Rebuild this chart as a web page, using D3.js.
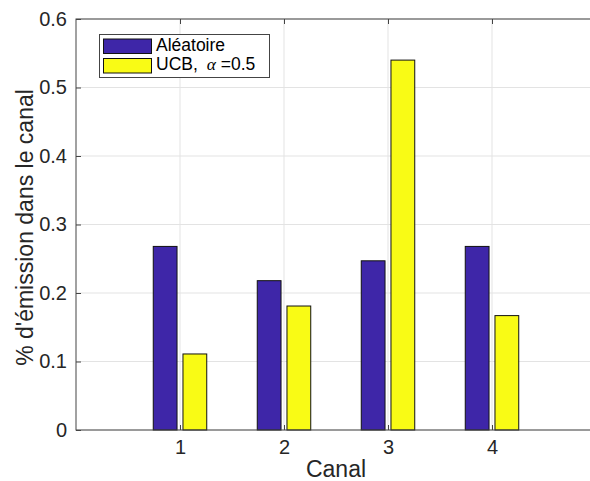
<!DOCTYPE html>
<html>
<head>
<meta charset="utf-8">
<script src="https://cdn.jsdelivr.net/npm/d3@7"></script>
<style>
  html, body { margin: 0; padding: 0; background: #fff; overflow: hidden; }
  text { font-family: "Liberation Sans", Arial, Helvetica, sans-serif; }
</style>
</head>
<body>
<svg id="chart" width="590" height="481"></svg>
<script>
const categories = [1, 2, 3, 4];
const aleatoire = [0.268, 0.218, 0.247, 0.268];
const ucb = [0.111, 0.181, 0.540, 0.167];
const yTicks = [0, 0.1, 0.2, 0.3, 0.4, 0.5, 0.6];
const seriesNames = ["Aléatoire", "UCB, "];
const xLabel = "Canal";
const yLabel = "% d'émission dans le canal";

const colors = ["rgb(62,38,168)", "rgb(249,251,21)"];
const svg = d3.select("#chart");
const L = 76, R = 596, T = 19, B = 430;
const x = d3.scaleLinear().domain([0, 5]).range([L, R]);
const y = d3.scaleLinear().domain([0, 0.6]).range([B, T]);
const axisCol = "#262626";
const gridCol = "#e3e3e3";

// grid
svg.append("g").selectAll("line").data(categories).join("line")
  .attr("x1", d => x(d)).attr("x2", d => x(d)).attr("y1", T).attr("y2", B)
  .attr("stroke", gridCol).attr("stroke-width", 1);
svg.append("g").selectAll("line").data(yTicks).join("line")
  .attr("x1", L).attr("x2", R).attr("y1", d => y(d)).attr("y2", d => y(d))
  .attr("stroke", gridCol).attr("stroke-width", 1);

// bars
const groupWidth = Math.min(0.8, 2 / (2 + 1.5));
const barW = groupWidth / 2 * 0.8;
const offsets = [-groupWidth / 4, groupWidth / 4];
[aleatoire, ucb].forEach((vals, si) => {
  svg.append("g").selectAll("rect").data(categories.map((c, i) => ({c, v: vals[i]}))).join("rect")
    .attr("x", d => x(d.c + offsets[si] - barW / 2))
    .attr("width", d => x(d.c + offsets[si] + barW / 2) - x(d.c + offsets[si] - barW / 2))
    .attr("y", d => y(d.v))
    .attr("height", d => y(0) - y(d.v))
    .attr("fill", colors[si])
    .attr("stroke", "#111").attr("stroke-width", 1);
});

// axes box
const box = svg.append("g").attr("fill", "none").attr("stroke", "#444").attr("stroke-width", 1);
box.append("rect").attr("x", L).attr("y", T).attr("width", R - L).attr("height", B - T);

// inward ticks
const yAxis = d3.axisLeft(y).tickValues(yTicks).tickSize(-5).tickPadding(9)
  .tickFormat(d => d === 0 ? "0" : d3.format(".1f")(d));
const gy = svg.append("g").attr("transform", `translate(${L},0)`).call(yAxis);
gy.select(".domain").remove();
gy.selectAll("line").attr("stroke", "#444");
gy.selectAll("text").attr("fill", axisCol).attr("font-size", 20);

const xAxis = d3.axisBottom(x).tickValues(categories).tickSize(-5).tickPadding(10).tickFormat(d3.format("d"));
const gx = svg.append("g").attr("transform", `translate(0,${B})`).call(xAxis);
gx.select(".domain").remove();
gx.selectAll("line").attr("stroke", "#444");
gx.selectAll("text").attr("fill", axisCol).attr("font-size", 20);

const xTop = d3.axisTop(x).tickValues(categories).tickSize(-5).tickFormat("");
const gt = svg.append("g").attr("transform", `translate(0,${T})`).call(xTop);
gt.select(".domain").remove();
gt.selectAll("line").attr("stroke", "#444");

// labels
svg.append("text").attr("x", (L + R) / 2).attr("y", 477).attr("text-anchor", "middle")
  .attr("font-size", 23).attr("fill", axisCol).text(xLabel);
svg.append("text").attr("transform", `translate(33,${(T + B) / 2 + 3}) rotate(-90)`)
  .attr("text-anchor", "middle").attr("font-size", 23).attr("fill", axisCol).text(yLabel);

// legend
const lg = svg.append("g");
lg.append("rect").attr("x", 99.5).attr("y", 34.5).attr("width", 170).attr("height", 43)
  .attr("fill", "#fff").attr("stroke", "#444").attr("stroke-width", 1);
[0, 1].forEach(i => {
  lg.append("rect").attr("x", 103.5).attr("y", 39 + i * 19.5).attr("width", 48).attr("height", 14.5)
    .attr("fill", colors[i]).attr("stroke", "#111").attr("stroke-width", 1);
});
lg.append("text").attr("x", 156).attr("y", 50.5).attr("font-size", 17.5).attr("fill", "#000").text(seriesNames[0]);
const t2 = lg.append("text").attr("x", 156).attr("y", 70).attr("font-size", 17.5).attr("fill", "#000");
t2.append("tspan").text(seriesNames[1]);
t2.append("tspan").attr("font-family", "'Liberation Serif', 'DejaVu Serif', serif").attr("font-style", "italic").attr("dx", 4).text("α");
t2.append("tspan").text(" =0.5");
</script>
</body>
</html>
